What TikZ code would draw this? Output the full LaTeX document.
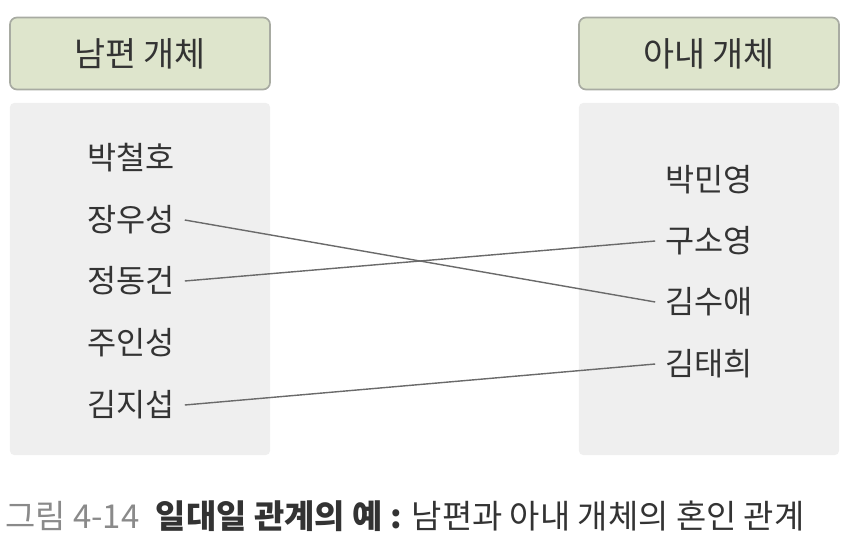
\documentclass[tikz,border=0pt]{standalone}
\usepackage{fontspec}
\newfontfamily\kr{Noto Sans CJK KR}
\usetikzlibrary{positioning}
\usetikzlibrary{calc}
\definecolor{headfill}{HTML}{DEE5CC}
\definecolor{headline}{HTML}{A8ABA2}
\definecolor{bodyfill}{HTML}{EFEFEF}
\definecolor{inkdark}{HTML}{333333}
\definecolor{inkgray}{HTML}{8A8A8A}
\definecolor{linkgray}{HTML}{6A6A6A}

\begin{document}
\begin{tikzpicture}[x=0.025cm,y=-0.025cm,
        head/.style={draw=headline, line width=1.2pt, fill=headfill, rounded corners=5pt, minimum width=6.5cm, minimum height=1.8cm, text=inkdark, font=\kr\fontsize{24}{28}\selectfont},
        body/.style={fill=bodyfill, rounded corners=3pt, minimum width=6.5cm, minimum height=8.8cm},
        person/.style={text=inkdark, inner sep=7pt, font=\kr\fontsize{22.5}{26}\selectfont},
        link/.style={linkgray, line width=1pt}]
        \useasboundingbox (0,0) rectangle (856,539);
        \node[head] (husband) at (140,53.5) {남편 개체};
        \node[head] (wife) at (709,53.5) {아내 개체};
        \node[body] (hbody) at (140,279) {};
        \node[body] (wbody) at (709,279) {};

        \node[person] (h1) at (131,158) {박철호};
        \node[person] (h2) at (131,220) {장우성};
        \node[person] (h3) at (131,281) {정동건};
        \node[person] (h4) at (131,343) {주인성};
        \node[person] (h5) at (131,405) {김지섭};

        \node[person] (w1) at (709,180) {박민영};
        \node[person] (w2) at (709,241) {구소영};
        \node[person] (w3) at (709,302) {김수애};
        \node[person] (w4) at (709,364) {김태희};

        \draw[link] (h2.east) -- (w3.west);
        \draw[link] (h3.east) -- (w2.west);
        \draw[link] (h5.east) -- (w4.west);

        \node[anchor=west, inner sep=0pt, font=\kr\fontsize{23.4}{27}\selectfont] (caption) at (5,516)
        {\textcolor{inkgray}{그림 4-14}\hspace{0.5em}\textcolor{inkdark}{\bfseries 일대일 관계의 예 :} \textcolor{inkdark}{남편과 아내 개체의 혼인 관계}};
    \end{tikzpicture}
\end{document}
